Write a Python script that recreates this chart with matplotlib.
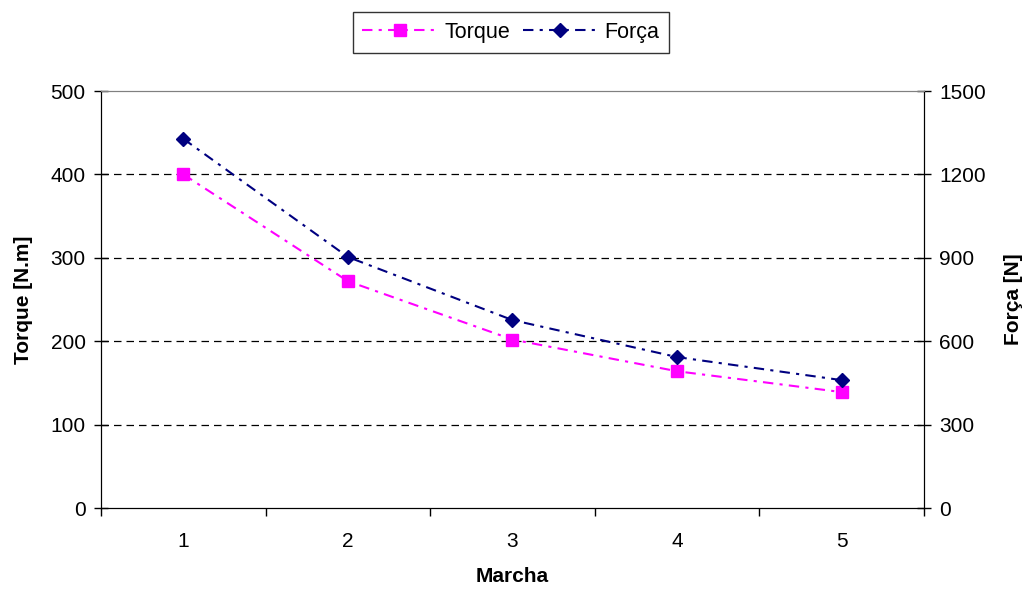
import matplotlib
matplotlib.use("Agg")
import matplotlib.pyplot as plt
from matplotlib.ticker import FixedLocator, NullFormatter

plt.rcParams['font.family'] = ['Liberation Sans', 'DejaVu Sans']

marchas = [1, 2, 3, 4, 5]
torque = [400, 272, 202, 164, 139]
forca = [1328, 903, 676, 543, 460]

fig = plt.figure(figsize=(10.32, 5.91), dpi=100)
ax = fig.add_axes([0.0979, 0.1404, 0.7974, 0.7056])
ax2 = ax.twinx()

dash = (0, (5, 3, 1.5, 3))
l1, = ax.plot(marchas, torque, color='#FF00FF', linestyle=dash, linewidth=1.5,
              marker='s', markersize=8, label='Torque', zorder=3)
l2, = ax2.plot(marchas, forca, color='#000080', linestyle=dash, linewidth=1.5,
               marker='D', markersize=7, label='Força', zorder=3)

ax.set_xlim(0.5, 5.5)
ax.set_ylim(0, 500)
ax2.set_ylim(0, 1500)
ax.set_yticks([0, 100, 200, 300, 400, 500])
ax2.set_yticks([0, 300, 600, 900, 1200, 1500])

# category axis: labels at centers, ticks at boundaries
ax.set_xticks(marchas)
ax.set_xticklabels([str(m) for m in marchas])
ax.tick_params(axis='x', which='major', length=0, labelsize=15, pad=17)
ax.xaxis.set_minor_locator(FixedLocator([0.5, 1.5, 2.5, 3.5, 4.5, 5.5]))
ax.xaxis.set_minor_formatter(NullFormatter())
ax.tick_params(axis='x', which='minor', length=6, direction='out', width=1)

ax.tick_params(axis='y', direction='inout', length=10, width=1, labelsize=15, pad=6)
ax2.tick_params(axis='y', direction='inout', length=10, width=1, labelsize=15, pad=6)

for y in [100, 200, 300, 400]:
    ax.axhline(y, color='black', linestyle=(0, (6, 4)), linewidth=0.9, zorder=1)

for a in (ax, ax2):
    a.spines['top'].set_color('#808080')
    a.spines['left'].set_color('black')
    a.spines['right'].set_color('black')
    a.spines['bottom'].set_color('black')

ax.set_ylabel('Torque [N.m]', fontsize=15, fontweight='bold', labelpad=13)
ax2.set_ylabel('Força [N]', fontsize=15, fontweight='bold', labelpad=13)
ax.set_xlabel('Marcha', fontsize=15, fontweight='bold', labelpad=12)

leg = fig.legend(handles=[l1, l2], loc='center', bbox_to_anchor=(0.495, 0.945),
                 ncol=2, fontsize=15.5, frameon=True, fancybox=False,
                 edgecolor='black', handlelength=3.5, columnspacing=0.6,
                 handletextpad=0.3, borderpad=0.45)
leg.get_frame().set_linewidth(1.0)

fig.savefig('out.png', dpi=100)
